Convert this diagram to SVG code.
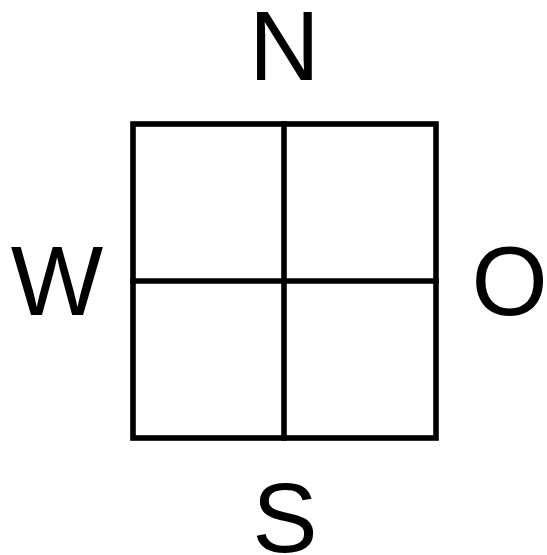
<svg xmlns="http://www.w3.org/2000/svg" width="547" height="555" viewBox="0 0 547 555">
<style>
.l{stroke:#000;stroke-width:5.6;fill:none;stroke-linecap:square}
.t{font-family:"Liberation Sans",Arial,sans-serif;font-size:98px;fill:#000;text-anchor:middle}
</style>
<rect width="547" height="555" fill="#fff"/>
<g id="grid">
<rect class="l" x="133" y="124" width="303" height="314"/>
<line class="l" x1="284" y1="124" x2="284" y2="438"/>
<line class="l" x1="133" y1="281" x2="436" y2="281"/>
</g>
<g id="labels">
<text id="N" class="t" x="284.5" y="80">N</text>
<text id="W" class="t" x="57" y="315">W</text>
<text id="O" class="t" x="509.5" y="315">O</text>
<text id="S" class="t" x="285" y="552">S</text>
</g>
</svg>
